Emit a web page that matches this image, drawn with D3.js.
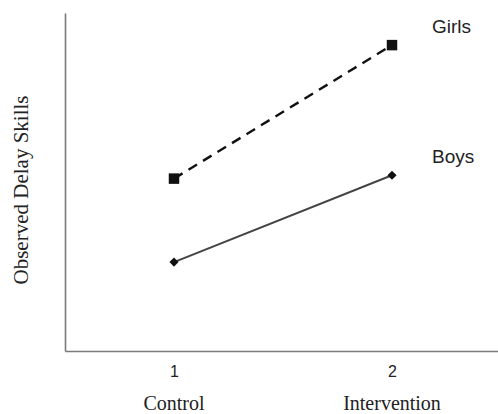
<!DOCTYPE html>
<html>
<head>
<meta charset="utf-8">
<script src="https://cdn.jsdelivr.net/npm/d3@7"></script>
<style>
  body { margin: 0; background: #fff; }
</style>
</head>
<body>
<script>
var groups = [1, 2];
var groupNames = ["Control", "Intervention"];
var girls = [5.1, 9.05];
var boys = [2.63, 5.2];
var seriesNames = ["Girls", "Boys"];

var w = 498;
var h = 414;

var svg = d3.select("body")
            .append("svg")
            .attr("width", w)
            .attr("height", h);

var xScale = d3.scaleLinear()
              .domain([0.5, 2.5])
              .range([65, 501]);

var yScale = d3.scaleLinear()
              .domain([0, 10])
              .range([351, 13]);

var xAxis = d3.axisBottom(xScale)
              .tickValues(groups)
              .tickSize(0)
              .tickPadding(15)
              .tickFormat(d3.format("d"));

var yAxis = d3.axisLeft(yScale).ticks(0).tickSize(0);

var gx = svg.append("g")
    .attr("class", "axis")
    .attr("transform", "translate(0," + yScale(0) + ")")
    .call(xAxis);
gx.select(".domain").attr("stroke", "#7a7a7a").attr("stroke-width", 1.6);
gx.selectAll(".tick text")
    .style("font-family", "'Liberation Sans', Arial, sans-serif")
    .style("font-size", "16px")
    .style("fill", "#222");

var gy = svg.append("g")
    .attr("class", "axis")
    .attr("transform", "translate(" + xScale(0.5) + ",0)")
    .call(yAxis);
gy.select(".domain").attr("stroke", "#7a7a7a").attr("stroke-width", 1.6);

// category names under ticks
svg.selectAll(".cat")
    .data(groupNames)
    .enter()
    .append("text")
      .attr("class", "cat")
      .attr("x", function(d, i) { return xScale(groups[i]); })
      .attr("y", 410)
      .attr("text-anchor", "middle")
      .style("font-family", "'Liberation Serif', 'Times New Roman', serif")
      .style("font-size", "20px")
      .style("fill", "#222")
      .text(function(d) { return d; });

svg.append("text")
    .attr("transform", "translate(28,190) rotate(-90)")
    .attr("text-anchor", "middle")
    .style("font-family", "'Liberation Serif', 'Times New Roman', serif")
    .style("font-size", "21px")
    .style("fill", "#222")
    .text("Observed Delay Skills");

var line = d3.line()
    .x(function(d, i) { return xScale(groups[i]); })
    .y(function(d) { return yScale(d); });

svg.append("path")
    .datum(girls)
    .attr("d", line)
    .attr("fill", "none")
    .attr("stroke", "#111")
    .attr("stroke-width", 2.4)
    .attr("stroke-dasharray", "10,7");

svg.append("path")
    .datum(boys)
    .attr("d", line)
    .attr("fill", "none")
    .attr("stroke", "#444")
    .attr("stroke-width", 2);

svg.selectAll(".sq")
    .data(girls)
    .enter()
    .append("path")
      .attr("class", "sq")
      .attr("transform", function(d, i) { return "translate(" + xScale(groups[i]) + "," + yScale(d) + ")"; })
      .attr("d", d3.symbol().type(d3.symbolSquare).size(110))
      .attr("fill", "#111");

svg.selectAll(".dm")
    .data(boys)
    .enter()
    .append("path")
      .attr("class", "dm")
      .attr("transform", function(d, i) { return "translate(" + xScale(groups[i]) + "," + yScale(d) + ") rotate(45)"; })
      .attr("d", d3.symbol().type(d3.symbolSquare).size(42))
      .attr("fill", "#111");

// series labels near the right-hand points
var lastVals = [girls[1], boys[1]];
svg.selectAll(".lab")
    .data(seriesNames)
    .enter()
    .append("text")
      .attr("class", "lab")
      .attr("x", xScale(groups[1]) + 40)
      .attr("y", function(d, i) { return yScale(lastVals[i]) - 12.5; })
      .style("font-family", "'Liberation Sans', Arial, sans-serif")
      .style("font-size", "19px")
      .style("fill", "#222")
      .text(function(d) { return d; });
</script>
</body>
</html>
